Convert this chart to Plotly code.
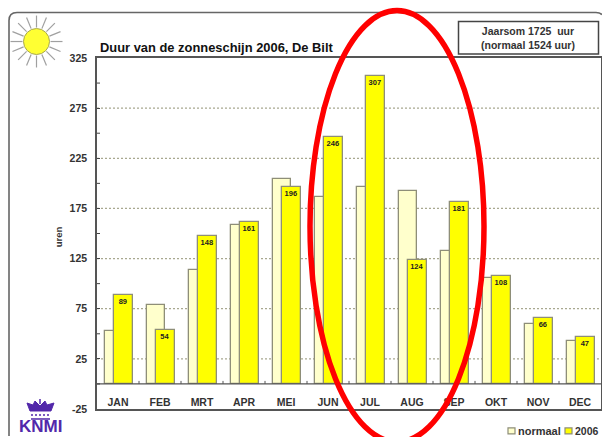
import math
import plotly.graph_objects as go

months = ["JAN","FEB","MRT","APR","MEI","JUN","JUL","AUG","SEP","OKT","NOV","DEC"]
normaal = [53,79,114,158,204,186,196,192,133,106,60,43]
jaar2006 = [89,54,148,161,196,246,307,124,181,108,66,47]
y_ticks = [25,75,125,175,225,275,325]
y_bottom = -25
grid_values = [25,75,125,175,225,275]
minor_ticks = [0,50,100,150,200,250,300]

W, H = 602, 437
L, R, T, B = 97, 601, 57.5, 409
def px(x): return (x - L) / (R - L)
def py(y): return (B - y) / (B - T)
def pshape(kind, x0, y0, x1, y1, **kw):
    return dict(type=kind, xref="paper", yref="paper", x0=px(x0), x1=px(x1), y0=py(y0), y1=py(y1), **kw)
def ppath(d_pts, **kw):
    d = ""
    for cmd, x, y in d_pts:
        d += f"{cmd}{px(x):.5f},{py(y):.5f} "
    return dict(type="path", xref="paper", yref="paper", path=d, **kw)

FONT = "Liberation Sans"
fig = go.Figure()
edge = "#8e8e78"
fig.add_bar(x=months, y=normaal, name="normaal", offset=-0.32, width=0.45,
            marker=dict(color="#ffffcc", line=dict(color=edge, width=1.3)))
fig.add_bar(x=months, y=jaar2006, name="2006", offset=-0.095, width=0.45,
            marker=dict(color="#ffff00", line=dict(color=edge, width=1.3)),
            text=[str(v) for v in jaar2006], textposition="inside", insidetextanchor="end",
            textangle=0, constraintext="none",
            textfont=dict(family=FONT, size=7.5, color="#222222", weight="bold"))

shapes = []
for g in grid_values:
    shapes.append(dict(type="line", xref="paper", yref="y", x0=0, x1=1, y0=g, y1=g, layer="below",
                       line=dict(color="#a8a890", width=1.2, dash="2px,2px")))
shapes.append(dict(type="line", xref="paper", yref="y", x0=0, x1=1, y0=0, y1=0,
                   line=dict(color="#555555", width=1.3)))
for i in range(len(months) - 1):
    shapes.append(dict(type="line", xref="x", yref="y", x0=i + 0.5, x1=i + 0.5, y0=0, y1=3,
                       line=dict(color="#555555", width=1)))
for m in minor_ticks:
    shapes.append(dict(type="line", xref="paper", yref="y", x0=0, x1=3 / (R - L), y0=m, y1=m,
                       line=dict(color="#444444", width=1)))
# outer frame
r = 8
shapes.append(ppath([("M", 9, 436), ("L", 9, 12 + r), ("Q", 9, 12), ("", 9 + r, 12), ("L", 596, 12), ("Q", 600, 12), ("", 602, 14)],
                    line=dict(color="#666666", width=1.6)))
# sun
cx, cy = 36.5, 41
for k in range(16):
    ang = math.radians(k * 22.5)
    shapes.append(pshape("line", cx + 14 * math.cos(ang), cy + 14 * math.sin(ang),
                         cx + 26 * math.cos(ang), cy + 26 * math.sin(ang),
                         line=dict(color="#a0a0a0", width=1.2)))
shapes.append(pshape("circle", cx - 13, cy - 13, cx + 13, cy + 13,
                     fillcolor="#ffff33", line=dict(color="#a8a850", width=1)))
# crown of the logo
purple = "#5228aa"
shapes.append(ppath([("M", 30, 411), ("L", 27, 403), ("L", 33, 405), ("L", 35, 401), ("L", 40, 406),
                     ("L", 45, 401), ("L", 47, 405), ("L", 54, 403), ("L", 51, 411), ("Z", 30, 411)],
                    fillcolor=purple, line=dict(color=purple, width=1)))
shapes.append(pshape("line", 40, 399, 40, 404, line=dict(color=purple, width=1.5)))
shapes.append(pshape("line", 31, 415, 50, 415, line=dict(color=purple, width=1.5, dash="2px,2px")))
shapes.append(pshape("line", 31, 419, 50, 419, line=dict(color=purple, width=1.5)))
# info box
shapes.append(pshape("rect", 458.5, 21, 598.5, 53.5, fillcolor="white", line=dict(color="#444444", width=1.5)))
# hand-placed legend
shapes.append(pshape("rect", 508, 428, 515, 434, fillcolor="#ffffcc", line=dict(color=edge, width=1.2)))
shapes.append(pshape("rect", 565, 428, 572, 434, fillcolor="#ffff00", line=dict(color=edge, width=1.2)))
# red ellipse
shapes.append(pshape("circle", 310, 10, 484, 442, line=dict(color="#ff0000", width=5.5)))

tickfont = dict(size=10.5, color="#333333", family=FONT, weight="bold")
def note(text, x, y, size, color="#333333", anchor="center", **kw):
    return dict(text=text, xref="paper", yref="paper", x=px(x), y=py(y), xanchor=anchor, yanchor="middle",
                showarrow=False, font=dict(size=size, color=color, family=FONT), **kw)

fig.update_layout(
    width=W, height=H, margin=dict(l=L, r=W - R, t=T, b=H - B, pad=0, autoexpand=False),
    paper_bgcolor="white", plot_bgcolor="white", barmode="overlay", bargap=0,
    font=dict(family=FONT, color="#333333"), showlegend=False,
    shapes=shapes,
    xaxis=dict(type="category", range=[-0.5, 11.5], categoryorder="array", categoryarray=months,
               ticks="", showgrid=False, zeroline=False, ticklabelposition="inside",
               tickfont=tickfont, showline=True, linecolor="#555555", linewidth=1.5, mirror=True),
    yaxis=dict(range=[y_bottom, 325], tickmode="array", tickvals=y_ticks, ticklen=3, ticks="inside",
               tickcolor="#444444", showgrid=False, zeroline=False, tickfont=tickfont,
               showline=True, linecolor="#555555", linewidth=1.5, mirror=True, ticklabelstandoff=6),
    annotations=[
        note("<b>Duur van de zonneschijn 2006, De Bilt</b>", 98, 47, 12.9, "#111111", "left"),
        note("<b>Jaarsom 1725  uur</b><br><b>(normaal 1524 uur)</b>", 528, 37, 10.5, align="center"),
        note("<b>uren</b>", 58, 237, 9.5, textangle=-90),
        note("<b>KNMI</b>", 40, 427, 17, purple),
        note("<b>normaal</b>", 516, 431, 11, anchor="left"),
        note("<b>2006</b>", 572.5, 431, 10.5, anchor="left"),
        dict(text=f"<b>{y_bottom}</b>", xref="paper", yref="y", x=px(89), y=y_bottom, xanchor="right", yanchor="middle",
             showarrow=False, font=dict(size=10.5, color="#333333", family=FONT)),
    ],
)
fig.write_html("out.html", config=dict(displayModeBar=False), post_script="document.body.style.margin='0';")
